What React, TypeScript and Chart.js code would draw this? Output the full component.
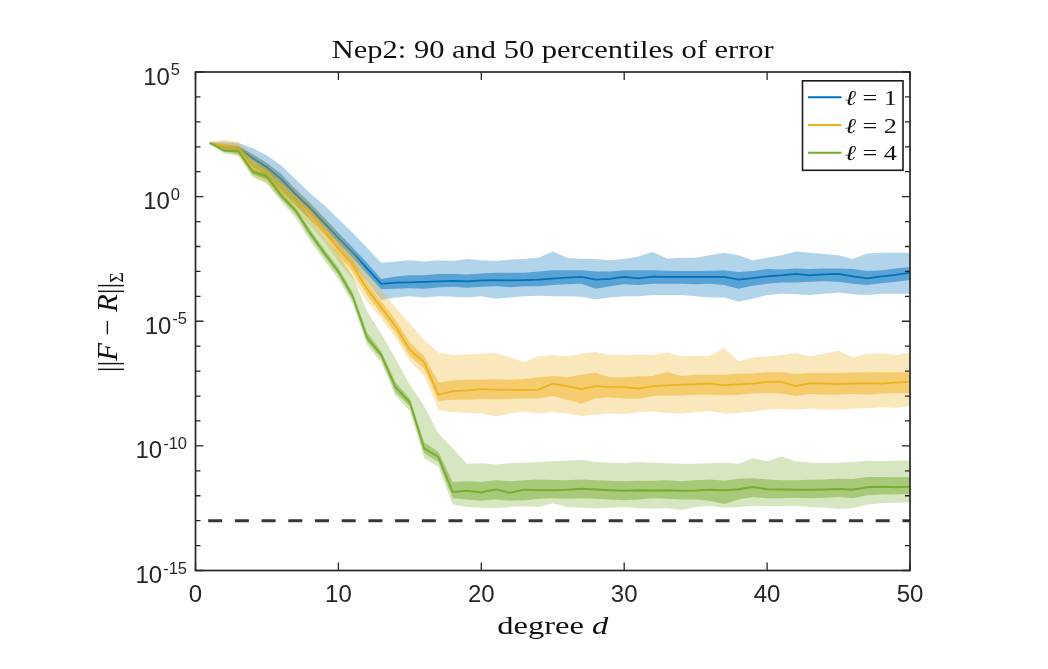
import React, { useEffect, useRef } from "react";
import { Chart, registerables } from "chart.js";

Chart.register(...registerables);

// ---------- data (log10 of error, per degree d) ----------
const degrees = [
  1, 2, 3, 4, 5, 6, 7, 8, 9, 10, 11, 12, 13, 14, 15, 16, 17, 18, 19, 20, 21, 22, 23, 24, 25,
  26, 27, 28, 29, 30, 31, 32, 33, 34, 35, 36, 37, 38, 39, 40, 41, 42, 43, 44, 45, 46, 47, 48, 49, 50,
];
const xTickValues = [0, 10, 20, 30, 40, 50];
const yTickExponents = [-15, -10, -5, 0, 5];
const legendLabels = ["1", "2", "4"];
const titleText = "Nep2: 90 and 50 percentiles of error";
const dashedLevelExp = -13;

// ℓ = 1
const l1P95 = [2.18, 2.2, 2.15, 1.95, 1.65, 1.25, 0.7, 0.15, -0.35, -0.9, -1.45, -2.05, -2.65, -2.6, -2.55, -2.6, -2.55, -2.58, -2.5, -2.55, -2.58, -2.52, -2.5, -2.45, -2.2, -2.45, -2.5, -2.5, -2.55, -2.5, -2.4, -2.22, -2.48, -2.45, -2.45, -2.35, -2.25, -2.35, -2.55, -2.45, -2.35, -2.2, -2.25, -2.3, -2.35, -2.5, -2.28, -2.25, -2.25, -2.25];
const l1P75 = [2.16, 2.08, 2.03, 1.7, 1.35, 0.9, 0.3, -0.25, -0.85, -1.45, -2.05, -2.65, -3.3, -3.2, -3.15, -3.15, -3.1, -3.1, -3.12, -3.08, -3.05, -3.05, -3.05, -3.0, -2.95, -2.95, -2.95, -3.0, -3.0, -2.95, -2.95, -2.95, -2.97, -2.98, -2.98, -2.97, -2.95, -3.02, -2.98, -2.9, -2.92, -2.88, -2.9, -2.88, -2.88, -2.9, -2.98, -2.95, -2.88, -2.82];
const l1P50 = [2.15, 2.02, 1.95, 1.55, 1.18, 0.7, 0.1, -0.45, -1.05, -1.65, -2.25, -2.88, -3.5, -3.45, -3.44, -3.42, -3.4, -3.38, -3.4, -3.36, -3.35, -3.36, -3.35, -3.33, -3.29, -3.25, -3.22, -3.33, -3.3, -3.22, -3.28, -3.21, -3.22, -3.22, -3.22, -3.22, -3.22, -3.33, -3.27, -3.2, -3.16, -3.1, -3.16, -3.12, -3.1, -3.2, -3.28, -3.2, -3.14, -3.05];
const l1P25 = [2.13, 1.95, 1.85, 1.4, 1.0, 0.5, -0.1, -0.65, -1.25, -1.85, -2.45, -3.1, -3.72, -3.7, -3.68, -3.7, -3.65, -3.62, -3.66, -3.62, -3.6, -3.64, -3.6, -3.6, -3.55, -3.52, -3.5, -3.7, -3.6, -3.52, -3.55, -3.5, -3.5, -3.5, -3.52, -3.5, -3.55, -3.7, -3.58, -3.5, -3.45, -3.45, -3.42, -3.4, -3.42, -3.5, -3.55, -3.48, -3.42, -3.35];
const l1P05 = [2.1, 1.85, 1.72, 1.25, 0.8, 0.25, -0.35, -0.9, -1.5, -2.1, -2.75, -3.4, -4.15, -4.05, -4.0, -4.05, -4.0, -4.02, -4.05, -4.0, -4.1, -4.05, -4.0, -3.98, -4.0, -4.0, -4.02, -4.12, -4.05, -4.0, -4.0, -3.95, -3.95, -3.95, -4.0, -4.05, -4.05, -4.22, -4.1, -3.95, -3.9, -3.92, -3.95, -3.9, -3.85, -3.92, -3.95, -3.9, -3.9, -3.9];

// ℓ = 2
const l2P95 = [2.2, 2.28, 2.2, 1.7, 1.35, 0.85, 0.35, -0.2, -0.8, -1.5, -2.15, -3.0, -3.75, -4.45, -5.1, -5.75, -6.25, -6.35, -6.33, -6.3, -6.27, -6.45, -6.63, -6.4, -6.35, -6.4, -6.3, -6.23, -6.35, -6.35, -6.33, -6.35, -6.25, -6.4, -6.38, -6.38, -6.08, -6.6, -6.45, -6.4, -6.35, -6.27, -6.4, -6.3, -6.18, -6.45, -6.3, -6.28, -6.35, -6.25];
const l2P75 = [2.17, 2.12, 2.05, 1.45, 1.1, 0.55, 0.05, -0.5, -1.15, -1.85, -2.5, -3.45, -4.2, -4.95, -5.85, -6.4, -7.45, -7.38, -7.35, -7.35, -7.33, -7.35, -7.32, -7.25, -7.2, -7.25, -7.15, -7.07, -7.25, -7.25, -7.22, -7.2, -7.04, -7.2, -7.15, -7.15, -7.15, -7.1, -7.1, -7.05, -7.05, -7.12, -7.08, -7.08, -7.08, -7.06, -7.06, -7.05, -7.05, -7.05];
const l2P50 = [2.15, 2.03, 1.93, 1.25, 0.92, 0.35, -0.15, -0.7, -1.35, -2.1, -2.75, -3.7, -4.45, -5.2, -6.15, -6.65, -7.95, -7.8, -7.77, -7.72, -7.74, -7.75, -7.76, -7.74, -7.5, -7.6, -7.72, -7.6, -7.63, -7.64, -7.7, -7.6, -7.57, -7.54, -7.52, -7.5, -7.56, -7.53, -7.5, -7.43, -7.43, -7.6, -7.48, -7.5, -7.52, -7.5, -7.48, -7.5, -7.46, -7.43];
const l2P25 = [2.13, 1.93, 1.8, 1.05, 0.72, 0.15, -0.35, -0.9, -1.55, -2.35, -3.0, -3.95, -4.7, -5.45, -6.4, -6.9, -8.2, -8.15, -8.15, -8.12, -8.13, -8.12, -8.1, -8.1, -8.0, -8.15, -8.3, -8.1, -8.05, -8.1, -8.12, -8.0, -7.98, -7.98, -7.95, -7.95, -7.97, -7.95, -7.9, -7.88, -7.9, -8.0, -7.92, -7.95, -7.95, -7.92, -7.95, -7.9, -7.88, -7.88];
const l2P05 = [2.1, 1.8, 1.6, 0.85, 0.5, -0.1, -0.6, -1.15, -1.8, -2.6, -3.3, -4.2, -4.9, -5.65, -6.6, -7.2, -8.55, -8.65, -8.68, -8.7, -8.82, -8.7, -8.62, -8.7, -8.65, -8.7, -8.8, -8.75, -8.7, -8.72, -8.65, -8.62, -8.68, -8.7, -8.65, -8.6, -8.7, -8.68, -8.62, -8.55, -8.52, -8.55, -8.5, -8.55, -8.55, -8.5, -8.5, -8.45, -8.48, -8.4];

// ℓ = 4
const l4P95 = [2.18, 2.0, 1.98, 1.35, 1.15, 0.5, -0.05, -0.85, -1.6, -2.3, -3.2, -4.6, -5.5, -6.5, -7.55, -8.4, -9.5, -10.1, -10.72, -10.7, -10.75, -10.7, -10.68, -10.65, -10.62, -10.6, -10.56, -10.65, -10.68, -10.7, -10.65, -10.68, -10.7, -10.72, -10.72, -10.7, -10.68, -10.72, -10.5, -10.62, -10.43, -10.62, -10.68, -10.7, -10.68, -10.65, -10.6, -10.62, -10.6, -10.58];
const l4P75 = [2.16, 1.9, 1.87, 1.1, 0.9, 0.15, -0.45, -1.3, -2.1, -2.85, -3.85, -5.45, -6.2, -7.45, -8.1, -9.85, -10.25, -11.45, -11.42, -11.45, -11.38, -11.42, -11.38, -11.35, -11.37, -11.38, -11.35, -11.38, -11.4, -11.42, -11.4, -11.4, -11.38, -11.42, -11.38, -11.35, -11.4, -11.32, -11.3, -11.35, -11.38, -11.38, -11.36, -11.35, -11.32, -11.33, -11.25, -11.25, -11.26, -11.25];
const l4P50 = [2.15, 1.85, 1.82, 1.0, 0.8, 0.05, -0.55, -1.45, -2.25, -3.0, -4.0, -5.65, -6.35, -7.65, -8.25, -10.1, -10.45, -11.85, -11.8, -11.87, -11.75, -11.88, -11.76, -11.78, -11.78, -11.76, -11.72, -11.75, -11.78, -11.8, -11.78, -11.79, -11.78, -11.8, -11.79, -11.76, -11.78, -11.74, -11.65, -11.74, -11.75, -11.76, -11.76, -11.75, -11.73, -11.76, -11.66, -11.64, -11.66, -11.64];
const l4P25 = [2.14, 1.8, 1.76, 0.9, 0.68, -0.08, -0.7, -1.6, -2.4, -3.15, -4.15, -5.8, -6.5, -7.85, -8.42, -10.3, -10.65, -12.1, -12.15, -12.2, -12.15, -12.2, -12.18, -12.12, -12.1, -12.12, -12.1, -12.12, -12.15, -12.18, -12.15, -12.1, -12.12, -12.15, -12.15, -12.2, -12.33, -12.15, -12.05, -12.1, -12.1, -12.08, -12.1, -12.08, -12.05, -12.1, -11.98, -11.95, -11.95, -11.92];
const l4P05 = [2.12, 1.72, 1.68, 0.78, 0.55, -0.2, -0.85, -1.75, -2.55, -3.3, -4.3, -5.95, -6.65, -8.0, -8.6, -10.5, -10.85, -12.35, -12.45, -12.48, -12.5, -12.45, -12.42, -12.45, -12.3, -12.45, -12.48, -12.5, -12.48, -12.45, -12.5, -12.52, -12.5, -12.57, -12.45, -12.4, -12.48, -12.45, -12.4, -12.42, -12.42, -12.4, -12.45, -12.48, -12.52, -12.5, -12.35, -12.3, -12.28, -12.26];

const seriesColors = [
  [0, 114, 189],
  [237, 177, 32],
  [119, 172, 48],
];

// ---------- helpers ----------
const SERIF = "'Liberation Serif', 'DejaVu Serif', serif";
const SANS = "'Liberation Sans', Arial, Helvetica, sans-serif";
const INK = "#262626";

type Seg = { t: string; f: string; dy?: number };

function segWidth(ctx: CanvasRenderingContext2D, segs: Seg[]) {
  let w = 0;
  for (const s of segs) {
    ctx.font = s.f;
    w += ctx.measureText(s.t).width;
  }
  return w;
}

// draws segments centered at (cx, y); stretched to targetWidth if given
function drawFitted(ctx: CanvasRenderingContext2D, segs: Seg[], cx: number, y: number, targetWidth?: number) {
  const w = segWidth(ctx, segs);
  const tw = targetWidth || w;
  const sx = tw / w;
  ctx.save();
  ctx.translate(cx - tw / 2, y);
  ctx.scale(sx, 1);
  ctx.textAlign = "left";
  ctx.textBaseline = "alphabetic";
  let px = 0;
  for (const s of segs) {
    ctx.font = s.f;
    ctx.fillText(s.t, px, s.dy || 0);
    px += ctx.measureText(s.t).width;
  }
  ctx.restore();
}

const rgba = (c: number[], a: number) => `rgba(${c[0]},${c[1]},${c[2]},${a})`;
const toPoints = (exps: number[]) => degrees.map((d, i) => ({ x: d, y: Math.pow(10, exps[i]) }));

const decorPlugin = {
  id: "matlabDecor",
  afterDraw(chart: any) {
    const { ctx, chartArea: a } = chart;
    const xs = chart.scales.x;
    const ys = chart.scales.y;
    ctx.save();

    // ticks (inward, all four sides)
    ctx.strokeStyle = INK;
    ctx.lineWidth = 1.3;
    ctx.beginPath();
    for (let e = -15; e <= 5; e++) {
      const py = ys.getPixelForValue(Math.pow(10, e));
      const len = e % 5 === 0 ? 8 : 5;
      ctx.moveTo(a.left, py);
      ctx.lineTo(a.left + len, py);
      ctx.moveTo(a.right, py);
      ctx.lineTo(a.right - len, py);
    }
    for (const t of xTickValues) {
      const px = xs.getPixelForValue(t);
      ctx.moveTo(px, a.bottom);
      ctx.lineTo(px, a.bottom - 8);
      ctx.moveTo(px, a.top);
      ctx.lineTo(px, a.top + 8);
    }
    ctx.stroke();

    // box
    ctx.lineWidth = 1.7;
    ctx.strokeRect(a.left, a.top, a.right - a.left, a.bottom - a.top);

    // y tick labels 10^e
    ctx.fillStyle = INK;
    ctx.textAlign = "left";
    ctx.textBaseline = "alphabetic";
    for (const e of yTickExponents) {
      const py = ys.getPixelForValue(Math.pow(10, e));
      const baseF = `24px ${SANS}`;
      const expF = `16.5px ${SANS}`;
      const expStr = e < 0 ? "-" + Math.abs(e) : String(e);
      ctx.font = baseF;
      const wb = ctx.measureText("10").width;
      ctx.font = expF;
      const we = ctx.measureText(expStr).width;
      const right = e < 0 ? a.left - 8.5 : a.left - 15.5;
      ctx.font = baseF;
      ctx.fillText("10", right - we - wb - 1, py + 12.5);
      ctx.font = expF;
      ctx.fillText(expStr, right - we, py + 3);
    }

    // x tick labels
    ctx.textAlign = "center";
    ctx.font = `24px ${SANS}`;
    for (const t of xTickValues) {
      const px = xs.getPixelForValue(t);
      ctx.fillText(String(t), px, a.bottom + 31.5);
    }

    const cx = (a.left + a.right) / 2;

    // title
    ctx.fillStyle = "#111";
    drawFitted(ctx, [{ t: titleText, f: `25px ${SERIF}` }], cx, 58, 442);

    // x label
    drawFitted(
      ctx,
      [
        { t: "degree ", f: `25px ${SERIF}` },
        { t: "d", f: `italic 25px ${SERIF}` },
      ],
      cx,
      634,
      111
    );

    // y label (rotated)
    ctx.save();
    ctx.translate(117, (a.top + a.bottom) / 2 + 1);
    ctx.rotate(-Math.PI / 2);
    const BAR = `29px ${SERIF}`;
    drawFitted(ctx, [
      { t: "||", f: BAR, dy: 1 },
      { t: "F", f: `italic 29px ${SERIF}` },
      { t: " \u2212 ", f: `29px ${SERIF}` },
      { t: "R", f: `italic 29px ${SERIF}` },
      { t: "||", f: BAR, dy: 1 },
      { t: "\u03A3", f: `18px ${SERIF}`, dy: 6 },
    ], 0, 0);
    ctx.restore();

    // legend box
    const bw = 100.5;
    const bh = 89.5;
    const bx = a.right - 7 - bw;
    const by = a.top + 8.8;
    ctx.fillStyle = "#fff";
    ctx.fillRect(bx, by, bw, bh);
    ctx.strokeStyle = "#1a1a1a";
    ctx.lineWidth = 1.6;
    ctx.strokeRect(bx, by, bw, bh);
    const rows = [16.5, 44.3, 72];
    legendLabels.forEach((lab, i) => {
      const ry = by + rows[i];
      ctx.strokeStyle = rgba(seriesColors[i], 1);
      ctx.lineWidth = 2;
      ctx.beginPath();
      ctx.moveTo(bx + 5.5, ry);
      ctx.lineTo(bx + 39, ry);
      ctx.stroke();
      ctx.fillStyle = "#111";
      const segs: Seg[] = [
        { t: "\u2113", f: `italic 21px ${SERIF}` },
        { t: " = " + lab, f: `21px ${SERIF}` },
      ];
      const w = 52;
      drawFitted(ctx, segs, bx + 42.5 + w / 2, ry + 7.5, w);
    });

    ctx.restore();
  },
};

export default function App() {
  const canvasRef = useRef<HTMLCanvasElement | null>(null);

  useEffect(() => {
    const canvas = canvasRef.current;
    if (!canvas) return;

    const groups = [
      [l1P95, l1P75, l1P50, l1P25, l1P05],
      [l2P95, l2P75, l2P50, l2P25, l2P05],
      [l4P95, l4P75, l4P50, l4P25, l4P05],
    ];

    const datasets: any[] = [];
    groups.forEach((g, k) => {
      const c = seriesColors[k];
      const base = 30 - k * 10;
      const [p95, p75, p50, p25, p05] = g;
      // outer band (90%)
      datasets.push({
        data: toPoints(p95),
        fill: "+1",
        backgroundColor: rgba(c, 0.3),
        borderColor: "rgba(0,0,0,0)",
        borderWidth: 0,
        pointRadius: 0,
        order: base,
      });
      datasets.push({
        data: toPoints(p05),
        fill: false,
        borderColor: "rgba(0,0,0,0)",
        borderWidth: 0,
        pointRadius: 0,
        order: base,
      });
      // inner band (50%)
      datasets.push({
        data: toPoints(p75),
        fill: "+1",
        backgroundColor: rgba(c, 0.5),
        borderColor: "rgba(0,0,0,0)",
        borderWidth: 0,
        pointRadius: 0,
        order: base - 1,
      });
      datasets.push({
        data: toPoints(p25),
        fill: false,
        borderColor: "rgba(0,0,0,0)",
        borderWidth: 0,
        pointRadius: 0,
        order: base - 1,
      });
      // median
      datasets.push({
        data: toPoints(p50),
        fill: false,
        borderColor: rgba(c, 1),
        borderWidth: 1.8,
        pointRadius: 0,
        order: base - 2,
      });
    });
    datasets.push({
      data: [
        { x: 0, y: Math.pow(10, dashedLevelExp) },
        { x: 50, y: Math.pow(10, dashedLevelExp) },
      ],
      fill: false,
      borderColor: "#363636",
      borderWidth: 3,
      borderDash: [14, 12.7],
      borderDashOffset: 14,
      pointRadius: 0,
      order: 0,
    });

    const chart = new Chart(canvas, {
      type: "line",
      data: { datasets },
      options: {
        responsive: false,
        animation: false,
        parsing: false as any,
        normalized: true,
        layout: { padding: { left: 195.5, right: 138, top: 72, bottom: 98.5 } },
        elements: { line: { tension: 0 }, point: { radius: 0 } },
        scales: {
          x: { type: "linear", min: 0, max: 50, display: false },
          y: { type: "logarithmic", min: 1e-15, max: 1e5, display: false },
        },
        plugins: {
          legend: { display: false },
          title: { display: false },
          tooltip: { enabled: false },
        },
      },
      plugins: [decorPlugin],
    });

    return () => chart.destroy();
  }, []);

  return (
    <div
      style={{
        position: "absolute",
        left: 0,
        top: 0,
        width: 1048,
        height: 669,
        background: "#fff",
      }}
    >
      <canvas ref={canvasRef} width={1048} height={669} style={{ display: "block" }} />
    </div>
  );
}
